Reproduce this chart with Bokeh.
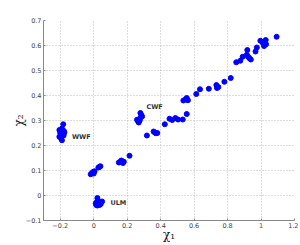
from bokeh.plotting import figure
from bokeh.models import Range1d, FixedTicker, ColumnDataSource
from bokeh.core.properties import value
from bokeh.embed import file_html
from bokeh.resources import INLINE

# WWF cluster
wwf_x = [-0.182, -0.205, -0.19, -0.178, -0.2, -0.186, -0.175, -0.205, -0.195, -0.19, -0.18]
wwf_y = [0.285, 0.262, 0.268, 0.258, 0.25, 0.245, 0.252, 0.235, 0.228, 0.221, 0.24]
# ULM cluster
ulm_x = [0.022, 0.025, 0.012, 0.042, 0.022, 0.05, 0.03, 0.015, 0.035, 0.02]
ulm_y = [-0.01, -0.02, -0.031, -0.034, -0.04, -0.024, -0.03, -0.038, -0.038, -0.025]
# lower chain
low_x = [-0.018, -0.004, -0.01, 0.005, 0.0, 0.028, 0.04, 0.035,
         0.15, 0.16, 0.17, 0.18, 0.165, 0.175, 0.214]
low_y = [0.085, 0.094, 0.09, 0.097, 0.088, 0.112, 0.117, 0.115,
         0.132, 0.135, 0.137, 0.135, 0.14, 0.13, 0.159]
# CWF cluster and neighbours
cwf_x = [0.279, 0.289, 0.259, 0.269, 0.278, 0.265, 0.275, 0.285,
         0.318, 0.358, 0.372, 0.365, 0.38]
cwf_y = [0.33, 0.316, 0.303, 0.292, 0.31, 0.298, 0.3, 0.322,
         0.24, 0.256, 0.249, 0.252, 0.25]
# upper chain
up_x = [0.425, 0.453, 0.469, 0.488, 0.504, 0.532, 0.556, 0.536, 0.556, 0.563, 0.55,
        0.613, 0.635, 0.688, 0.733, 0.737, 0.745, 0.781, 0.819, 0.852, 0.876, 0.89,
        0.915, 0.918, 0.923, 0.931, 0.939, 0.967, 0.975, 0.996, 1.01, 1.018, 1.022,
        1.028, 1.03, 1.093]
up_y = [0.285, 0.307, 0.302, 0.31, 0.304, 0.304, 0.326, 0.38, 0.39, 0.381, 0.385,
        0.406, 0.425, 0.427, 0.442, 0.43, 0.434, 0.455, 0.47, 0.533, 0.539, 0.555,
        0.563, 0.582, 0.555, 0.549, 0.544, 0.576, 0.592, 0.619, 0.611, 0.598, 0.606,
        0.622, 0.605, 0.635]

labels = ["WWF", "CWF", "ULM"]
label_x = [-0.13, 0.315, 0.1]
label_y = [0.235, 0.355, -0.03]

x_ticks = [-0.2, 0, 0.2, 0.4, 0.6, 0.8, 1.0, 1.2]
y_ticks = [-0.1, 0, 0.1, 0.2, 0.3, 0.4, 0.5, 0.6, 0.7]

xs = wwf_x + ulm_x + low_x + cwf_x + up_x
ys = wwf_y + ulm_y + low_y + cwf_y + up_y

p = figure(width=298, height=245, output_backend="svg", toolbar_location=None,
           x_range=Range1d(-0.3, 1.2), y_range=Range1d(-0.1, 0.7),
           min_border_left=43, min_border_right=4, min_border_top=20, min_border_bottom=25)
p.outline_line_color = None
p.background_fill_color = "white"

p.scatter(xs, ys, size=5, color="#0000ff")

src = ColumnDataSource(dict(x=label_x, y=label_y, t=labels))
p.text(x="x", y="y", text="t", source=src, text_font_size="6.5px",
       text_font_style="bold", text_color="#333333", text_align="left",
       text_baseline="middle", text_font=value("DejaVu Sans"))

for ax, ticks in ((p.xaxis[0], x_ticks), (p.yaxis[0], y_ticks)):
    ax.ticker = FixedTicker(ticks=ticks)
    ax.axis_line_color = "#888888"
    ax.major_tick_line_color = "#888888"
    ax.major_tick_in = 2
    ax.major_tick_out = 0
    ax.minor_tick_line_color = None
    ax.major_label_text_font_size = "6.5px"
    ax.major_label_text_color = "#444444"
    ax.major_label_text_font = "DejaVu Sans"
    ax.major_label_standoff = 2
    ax.axis_label_text_font_size = "12px"
    ax.axis_label_text_font_style = "normal"
    ax.axis_label_text_color = "#222222"
    ax.axis_label_text_font = "DejaVu Serif"
    ax.axis_label_standoff = -3

p.xaxis.axis_label = "χ₁"
p.yaxis.axis_label = "χ₂"
p.yaxis.major_label_orientation = "horizontal"
p.xaxis.major_label_overrides = {-0.2: "−0.2", 0: "0", 1.0: "1", 1.2: "1.2"}
p.yaxis.major_label_overrides = {-0.1: "−0.1", 0: "0"}

p.grid.grid_line_color = "#bbbbbb"
p.grid.grid_line_dash = "1 2"
p.grid.grid_line_width = 1

open("out.html", "w").write(file_html(p, INLINE))
